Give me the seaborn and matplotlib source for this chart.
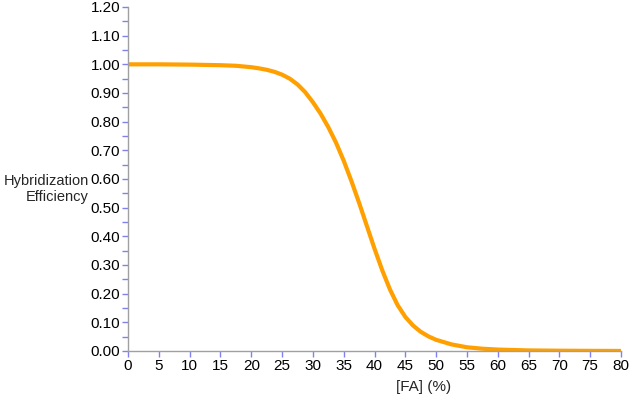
import matplotlib
matplotlib.use("Agg")
import matplotlib.pyplot as plt
import seaborn as sns
import pandas as pd
from matplotlib.ticker import MultipleLocator

# values
fa_percent = [0, 5, 10, 15, 17.5, 20, 21.25, 22.5, 23.75, 25, 26.25, 27.5,
              28.75, 30, 31.25, 32.5, 33.75, 35, 36.25, 37.5, 38.75, 40,
              41.25, 42.5, 43.75, 45, 46.25, 47.5, 48.75, 50, 52.5, 55, 57.5,
              60, 65, 70, 75, 80]
efficiency = [1.000, 1.000, 0.999, 0.997, 0.995, 0.990, 0.986, 0.981, 0.974,
              0.964, 0.950, 0.930, 0.903, 0.868, 0.828, 0.781, 0.727, 0.664,
              0.593, 0.517, 0.437, 0.357, 0.282, 0.215, 0.160, 0.119, 0.089,
              0.067, 0.051, 0.039, 0.023, 0.013, 0.008, 0.005, 0.002, 0.001,
              0.0005, 0.0002]
x_ticks = list(range(0, 81, 5))
y_ticks = [i / 10 for i in range(0, 13)]

df = pd.DataFrame({"FA": fa_percent, "eff": efficiency})

sns.set_style("white")
plt.rcParams["font.family"] = ["Liberation Sans", "DejaVu Sans"]

fig = plt.figure(figsize=(6.3, 4), dpi=100)
ax = fig.add_axes([128 / 630, 1 - 351 / 400, 493 / 630, 344 / 400])

sns.lineplot(data=df, x="FA", y="eff", color="#ffa000", linewidth=3, ax=ax)
ax.lines[0].set_solid_joinstyle("round")

ax.set_xlim(0, 80)
ax.set_ylim(0, 1.2)
ax.set_xticks(x_ticks)
ax.set_yticks(y_ticks)
ax.set_yticklabels([f"{v:.2f}" for v in y_ticks])
ax.yaxis.set_minor_locator(MultipleLocator(0.05))

for side in ["top", "right"]:
    ax.spines[side].set_visible(False)
for side in ["left", "bottom"]:
    ax.spines[side].set_color("#a0a0a0")
    ax.spines[side].set_linewidth(1)

ax.tick_params(axis="both", which="both", direction="out", color="#8080f0",
               labelsize=11, labelcolor="black", bottom=True, left=True)
ax.tick_params(axis="both", which="major", length=4, width=1, pad=1.5)
ax.tick_params(axis="y", which="minor", length=4, width=1)
ax.tick_params(axis="x", which="minor", length=0)

ax.set_xlabel("[FA] (%)", fontsize=11)
ax.xaxis.set_label_coords(0.6, -0.085)
ax.set_ylabel("Hybridization\nEfficiency", fontsize=10.5, rotation=0,
              ha="right", va="center", multialignment="right")
ax.yaxis.set_label_coords(-0.08, 0.47)
ax.grid(False)

fig.savefig("out.png", dpi=100)
